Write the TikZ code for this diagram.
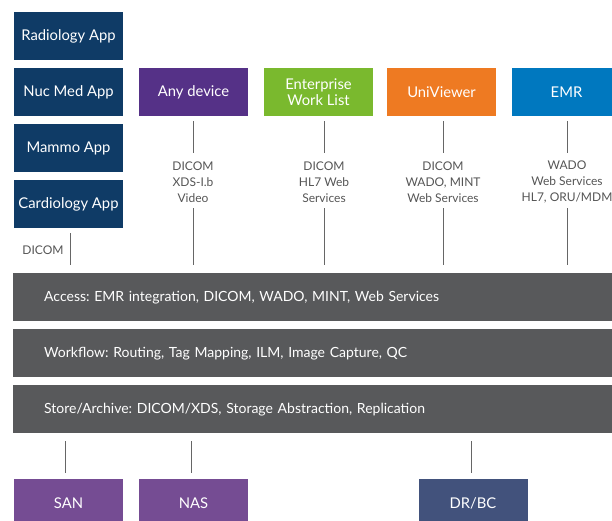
\documentclass[tikz,border=0pt]{standalone}
\usepackage{fontspec}
\setmainfont{Lato}
\frenchspacing
\definecolor{navy}{HTML}{0F3B66}
\definecolor{devpurple}{HTML}{553187}
\definecolor{wlgreen}{HTML}{7AB92E}
\definecolor{uvorange}{HTML}{EE7A22}
\definecolor{emrblue}{HTML}{0078BF}
\definecolor{bargray}{HTML}{58595B}
\definecolor{stpurple}{HTML}{754C93}
\definecolor{drblue}{HTML}{42527C}
\definecolor{linegray}{HTML}{666666}
\definecolor{txtgray}{HTML}{555555}
\begin{document}
\begin{tikzpicture}[x=1pt,y=-1pt,
  box/.style={minimum width=109pt,minimum height=48pt,inner sep=0pt,
    text=white,font=\fontsize{14.8}{16}\selectfont,align=center},
  bar/.style={anchor=north west,fill=bargray,minimum height=48pt,
    text width=537pt,inner xsep=31pt,inner ysep=0pt,align=left,text=white,
    font=\fontsize{14}{16}\selectfont},
  proto/.style={text=txtgray,align=center,inner sep=0pt,
    font=\fontsize{12}{16}\selectfont},
  conn/.style={draw=linegray,line width=0.9pt}]
\useasboundingbox (0,0) rectangle (612,520);

% application boxes on the left
\node[box,fill=navy] (rad) at (68.5,36) {Radiology App};
\node[box,fill=navy] (nuc) at (68.5,92) {Nuc Med App};
\node[box,fill=navy] (mam) at (68.5,148) {Mammo App};
\node[box,fill=navy] (car) at (68.5,204) {Cardiology App};

% client systems
\node[box,fill=devpurple] (dev) at (193.5,92) {Any device};
\node[box,fill=wlgreen] (ewl) at (318.5,92) {Enterprise\\Work List};
\node[box,fill=uvorange] (uv) at (441.5,92) {UniViewer};
\node[box,fill=emrblue] (emr) at (566.5,92) {EMR};

% protocol labels
\node[proto] (pdev) at (193,182) {DICOM\\XDS-I.b\\Video};
\node[proto] (pewl) at (324,182) {DICOM\\HL7 Web\\Services};
\node[proto] (puv) at (443,182) {DICOM\\WADO, MINT\\Web Services};
\node[proto] (pemr) at (567,182) {WADO\\Web Services\\HL7, ORU/MDM};
\node[proto] (pcar) at (43,250) {DICOM};

% layered services
\node[bar] (acc) at (13,273) {Access: EMR integration, DICOM, WADO, MINT, Web Services};
\node[bar] (wf) at (13,329) {Workflow: Routing, Tag Mapping, ILM, Image Capture, QC};
\node[bar] (st) at (13,385) {Store/Archive: DICOM/XDS, Storage Abstraction, Replication};

% storage targets
\node[box,fill=stpurple,anchor=north] (san) at (68.5,479) {SAN};
\node[box,fill=stpurple,anchor=north] (nas) at (193.5,479) {NAS};
\node[box,fill=drblue,anchor=north] (dr) at (473,479) {DR/BC};

% connectors: client -> label -> access layer
\foreach \c/\x in {dev/193, ewl/324, uv/443, emr/567}{
  \coordinate (\c-a) at (\x,121);
  \coordinate (\c-b) at (\x,153);
  \coordinate (\c-c) at (\x,208);
  \coordinate (\c-d) at (\x,265);
  \draw[conn] (\c-a) -- (\c-b);
  \draw[conn] (\c-c) -- (\c-d);
}
\coordinate (car-a) at (70,233);
\coordinate (car-b) at (70,265);
\draw[conn] (car-a) -- (car-b);

% connectors: store layer -> storage targets
\foreach \t/\x in {san/65, nas/191, dr/471}{
  \coordinate (\t-a) at (\x,441);
  \coordinate (\t-b) at (\x,473);
  \draw[conn] (\t-a) -- (\t-b);
}
\end{tikzpicture}
\end{document}
